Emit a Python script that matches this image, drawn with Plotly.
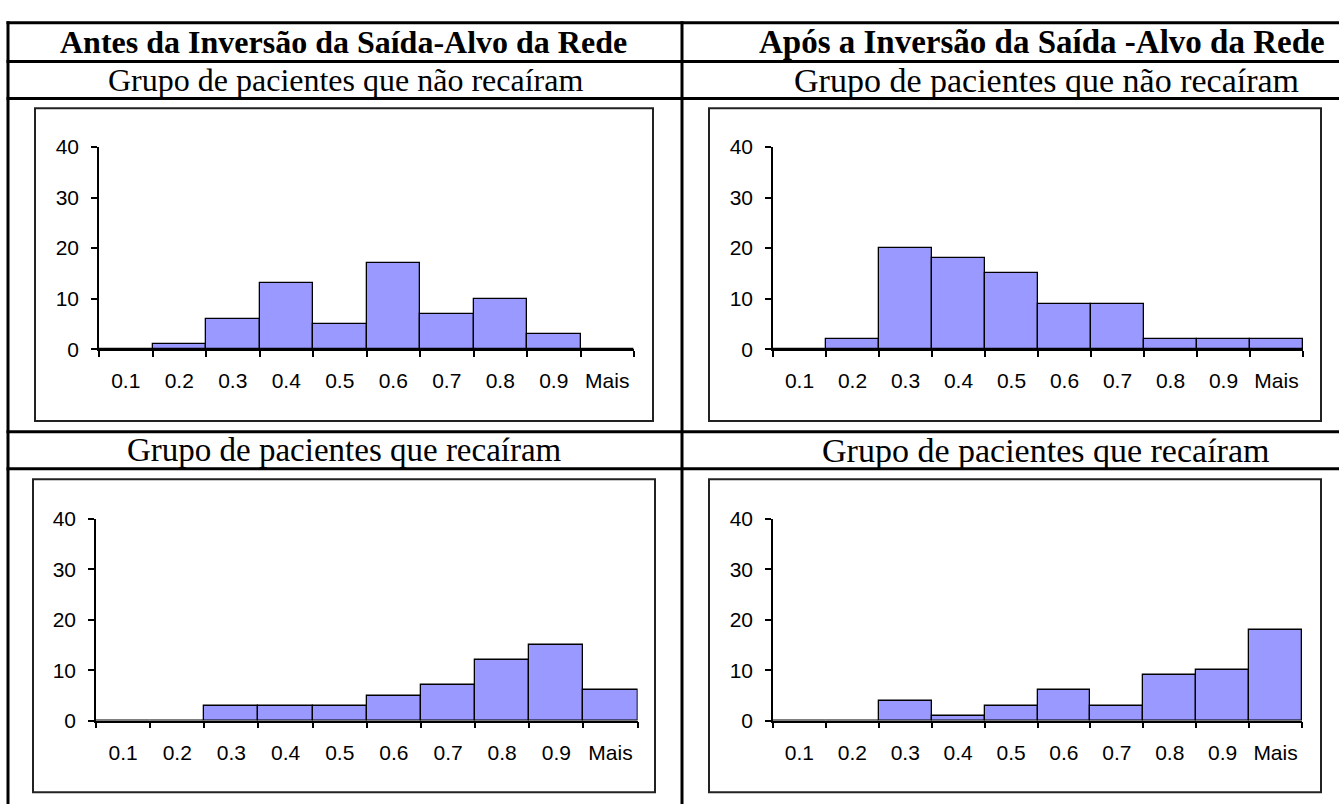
import plotly.graph_objects as go

W, H = 1339, 811

categories = ["0.1", "0.2", "0.3", "0.4", "0.5", "0.6", "0.7", "0.8", "0.9", "Mais"]
antes_nao_recairam = [0, 1, 6, 13, 5, 17, 7, 10, 3, 0]
apos_nao_recairam = [0, 2, 20, 18, 15, 9, 9, 2, 2, 2]
antes_recairam = [0, 0, 3, 3, 3, 5, 7, 12, 15, 6]
apos_recairam = [0, 0, 4, 1, 3, 6, 3, 9, 10, 18]
y_ticks = [0, 10, 20, 30, 40]

header_left = "Antes da Inversão da Saída-Alvo da Rede"
header_right = "Após a Inversão da Saída -Alvo da Rede"
sub_top = "Grupo de pacientes que não recaíram"
sub_bottom = "Grupo de pacientes que recaíram"

def fx(x):
    return x / W

def fy(y):
    return 1 - y / H

# (x0, x1, ytop(40), ybottom(0)) in pixels
panels = [
    (antes_nao_recairam, (99, 634, 139, 347)),
    (apos_nao_recairam, (773, 1303, 139, 347)),
    (antes_recairam, (96, 637.6, 521.7, 729.3)),
    (apos_recairam, (773, 1302, 521.7, 729.3)),
]
frames = [
    (35, 99, 653, 421),
    (709, 99, 1321, 421),
    (33, 481, 655, 803),
    (709, 481, 1321, 803),
]

tick_font = dict(family="Liberation Sans, Arial, sans-serif", size=21, color="black")

fig = go.Figure()
layout = {}
for i, (vals, (x0, x1, yt, yb)) in enumerate(panels):
    n = i + 1
    xa = "x" if n == 1 else f"x{n}"
    ya = "y" if n == 1 else f"y{n}"
    xo = n + 4
    yo = n + 4
    fig.add_trace(go.Bar(
        x=categories, y=vals, xaxis=xa, yaxis=ya,
        marker=dict(color="#9999FF", line=dict(color="black", width=1.3)),
        width=1.0, showlegend=False, hoverinfo="x+y",
    ))
    xname = "xaxis" if n == 1 else f"xaxis{n}"
    yname = "yaxis" if n == 1 else f"yaxis{n}"
    layout[xname] = dict(
        domain=[fx(x0), fx(x1)], anchor=ya, type="category",
        categoryorder="array", categoryarray=categories,
        range=[-0.5, 9.5], tickson="boundaries", ticks="outside",
        ticklen=6, tickwidth=1.5, tickcolor="black", tickangle=0,
        showline=True, linecolor="black", linewidth=1.5,
        showgrid=False, zeroline=False, tickfont=tick_font,
        ticklabelstandoff=12, fixedrange=True,
    )
    layout[yname] = dict(
        domain=[fy(yb), fy(yt)], anchor=xa, range=[0, 40],
        tickvals=y_ticks, ticks="outside", ticklen=6, tickwidth=1.5,
        tickcolor="black", showline=True, linecolor="black", linewidth=1.5,
        showgrid=False, zeroline=False, tickfont=tick_font,
        ticklabelstandoff=8, fixedrange=True,
    )
    # overlay axes to make the ticks cross the axis lines
    layout[f"xaxis{xo}"] = dict(
        domain=[fx(x0), fx(x1)], anchor=ya, overlaying=xa, range=[-0.5, 9.5],
        tickvals=[k - 0.5 for k in range(len(categories) + 1)],
        ticks="inside", ticklen=5, tickwidth=1.5, tickcolor="black",
        showticklabels=False, showline=False, showgrid=False,
        zeroline=False, fixedrange=True,
    )
    layout[f"yaxis{yo}"] = dict(
        domain=[fy(yb), fy(yt)], anchor=xa, overlaying=ya, range=[0, 40],
        tickvals=y_ticks, ticks="inside", ticklen=6, tickwidth=1.5,
        tickcolor="black", showticklabels=False, showline=False,
        showgrid=False, zeroline=False, fixedrange=True,
    )

shapes = []
for (a, b, c, d) in frames:
    shapes.append(dict(type="rect", xref="paper", yref="paper",
                       x0=fx(a), x1=fx(c), y0=fy(b), y1=fy(d),
                       line=dict(color="#222222", width=2), layer="below"))
# table lines
for yl in [11, 51, 89, 432, 470]:
    shapes.append(dict(type="line", xref="paper", yref="paper",
                       x0=fx(6.5), x1=fx(1345), y0=fy(yl), y1=fy(yl),
                       line=dict(color="black", width=3)))
for xl in [8, 682]:
    shapes.append(dict(type="line", xref="paper", yref="paper",
                       x0=fx(xl), x1=fx(xl), y0=fy(9.5), y1=fy(815),
                       line=dict(color="black", width=3)))

serif = "Liberation Serif, Times New Roman, serif"
annotations = [
    dict(text=f"<b>{header_left}</b>", x=fx(343), y=fy(31), size=32),
    dict(text=f"<b>{header_right}</b>", x=fx(1042), y=fy(31), size=33),
    dict(text=sub_top, x=fx(345), y=fy(70), size=32),
    dict(text=sub_top, x=fx(1046), y=fy(70), size=34),
    dict(text=sub_bottom, x=fx(344), y=fy(451), size=33),
    dict(text=sub_bottom, x=fx(1045), y=fy(451), size=34),
]
for an in annotations:
    sz = an.pop("size")
    an.update(xref="paper", yref="paper", showarrow=False,
              xanchor="center", yanchor="middle",
              font=dict(family=serif, size=sz, color="black"))

fig.update_layout(
    width=W, height=H, margin=dict(l=0, r=0, t=0, b=0),
    paper_bgcolor="white", plot_bgcolor="rgba(0,0,0,0)",
    bargap=0, shapes=shapes, annotations=annotations, **layout,
)

fig.write_html(
    "out.html",
    config={"displayModeBar": False},
    post_script="document.body.style.margin='0';document.body.style.overflow='hidden';",
)
